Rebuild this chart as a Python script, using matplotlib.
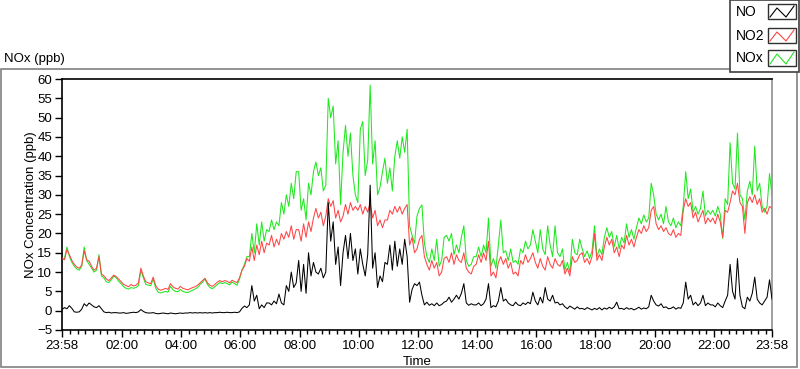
import numpy as np
import matplotlib
matplotlib.use("Agg")
import matplotlib.pyplot as plt
from matplotlib.patches import Rectangle
from matplotlib.lines import Line2D

# ---------------- data (5-minute samples from 23:58, minutes since start) ----------------
tick_labels = ["23:58", "02:00", "04:00", "06:00", "08:00", "10:00", "12:00",
               "14:00", "16:00", "18:00", "20:00", "22:00", "23:58"]
tick_minutes = [0, 122, 242, 362, 482, 602, 722, 842, 962, 1082, 1202, 1322, 1440]

no2 = [
    13.6, 13.2, 15.8, 14.5, 13, 12, 11.3, 11, 11.8, 15.5, 13.2, 12.8,
    11.5, 10.5, 11, 14, 9.5, 9, 8.2, 7.8, 8.5, 9.2, 8.8, 8.2,
    7.5, 6.8, 6.5, 6.2, 6.8, 6.4, 6.6, 7.2, 11, 9, 7.5, 7.2,
    7.0, 8.7, 6.5, 5.6, 5.3, 5.5, 5.8, 5.5, 7.0, 6.2, 5.8, 5.6,
    6.3, 5.8, 5.6, 5.4, 5.7, 6.0, 6.2, 6.6, 7.2, 7.8, 8.4, 7.2,
    6.6, 6.3, 6.8, 7.4, 7.8, 7.5, 7.8, 7.6, 7.2, 7.9, 7.5, 7.3,
    8.5, 10.5, 11.5, 13.5, 12.8, 16.5, 13, 17, 14.5, 18, 15, 17.5,
    17, 19.5, 16.5, 18.5, 17, 20, 18.5, 20.5, 19, 22, 18.5, 21,
    21, 18, 22.5, 19, 23, 20.5, 24, 26.5, 24, 25.5, 22, 24.5,
    29, 27, 28.5, 24, 26, 23, 24.5, 27.5, 25, 28, 26, 27,
    26, 27.5, 25, 27, 25.5, 28, 24, 26, 22, 23.5, 21.5, 23.5,
    23.5, 26, 25, 27, 25.5, 27, 25, 26.5, 27.5, 17, 19, 15,
    16, 18.5, 19.5, 14, 12, 10.5, 13, 11, 12.5, 9, 10, 13.5,
    14, 12.5, 15, 12, 14.5, 13, 12.5, 15, 11, 10, 9.5, 11.5,
    12, 14.5, 12.5, 15, 13, 18, 9, 10, 8.5, 12.5, 14, 12,
    13.5, 11, 12.5, 9.5, 10, 9, 13, 12, 14.5, 12.5, 13.5, 15,
    12.5, 11, 13.5, 11.5, 10.5, 14, 12, 11, 13.5, 12, 11.5, 13,
    9.5, 11, 9, 14, 12.5, 13, 14.5, 15, 12.5, 13.5, 12, 14,
    20, 13, 14.5, 13, 16.5, 19, 17, 18.5, 15, 16.5, 14, 17,
    16, 19.5, 17, 18.5, 16.5, 19, 21, 20, 22, 20.5, 21.5, 26,
    27, 22.5, 21, 22, 20.5, 21.5, 20, 19.5, 21, 19, 20, 19.5,
    26, 29, 27, 28, 24, 25.5, 23, 24.5, 26, 22.5, 24, 23,
    24, 22.5, 25, 23, 19, 26, 25.5, 28, 31, 30, 33, 28,
    27, 20, 28, 29.5, 28, 30, 27.5, 29, 25.5, 26.5, 25, 27, 26.5,
]

nox = [
    13.4, 13.5, 16.5, 14, 12.5, 11.5, 10.8, 10.5, 11.5, 16.5, 13, 12,
    11, 10, 10.5, 14.5, 9, 8.5, 7.5, 7.3, 8, 9, 8.5, 7.6,
    7, 6.2, 5.8, 5.6, 6, 5.8, 6, 6.5, 10.5, 8.5, 6.8, 6.6,
    6.5, 8.2, 5.8, 4.8, 4.6, 4.8, 5.0, 4.8, 6.3, 5.4, 5.0, 4.9,
    5.5, 5.0, 4.8, 4.7, 5.0, 5.3, 5.6, 6.0, 6.8, 7.4, 8.2, 6.8,
    6.0, 5.7, 6.2, 6.8, 7.3, 7.0, 7.3, 7.0, 6.7, 7.4, 7.0, 6.6,
    8.2, 10.5, 12, 14, 14, 20, 15, 22.5, 17, 23, 18, 21,
    20.5, 23.5, 21, 23, 22, 28, 25, 30, 27, 33, 29, 36,
    36, 26, 29, 23.5, 33, 30, 36, 38.5, 35, 37, 31, 32.5,
    55, 50, 53, 38, 44, 27.5, 41, 48, 40, 46, 35, 30,
    28, 47, 49, 35, 39, 58.4, 38, 44, 30, 32, 36, 39.5,
    33, 37, 31, 40, 44, 39.5, 45, 41, 47, 22, 19.5, 17.5,
    24.5, 26.5, 27.4, 17.5, 14, 12.5, 16, 13, 18.5, 11.5, 13, 19,
    19.5, 18, 20, 14.5, 17, 15, 19, 22, 13, 11.5, 12, 14,
    14, 16.5, 14, 17, 15, 24, 11.5, 13.5, 11, 17, 23.5, 15,
    15.5, 13, 16, 12.5, 13, 12, 16, 15, 18, 16, 17, 21,
    18, 15, 21, 16, 14.5, 22, 17, 14, 22, 15, 14, 16,
    10.5, 12.5, 10, 18.5, 15, 14.5, 18.5, 16, 14, 15.5, 13.5, 15.5,
    22, 14, 16, 14.5, 19, 21.5, 19, 20.5, 16.5, 19.5, 16, 19,
    17.5, 22.5, 19, 21, 18.5, 21.5, 24, 22.5, 24.8, 23, 24, 33,
    30, 25, 23.5, 25, 22.5, 27, 23, 22, 24, 21.5, 23, 22,
    27, 36, 29, 31.5, 25.5, 27, 25, 26.5, 31, 24.5, 26, 25,
    26, 24.5, 27, 25, 18.7, 29, 27.5, 43.5, 33, 31.5, 46, 30,
    29, 23.5, 31, 33.5, 30, 42.6, 31, 33, 27, 25.5, 27, 35.5, 30,
]

no = [
    0.3, 0.8, 0.5, 1.3, 0.6, -0.3, -0.4, -0.3, 0.4, 1.8, 1.2, 2.0,
    1.5, 1.0, 0.8, 1.3, 0.5, -0.3, -0.5, -0.4, -0.6, -0.5, -0.5, -0.6,
    -0.6, -0.5, -0.7, -0.6, -0.5, -0.4, -0.5, -0.3, 0.3, -0.2, -0.5, -0.6,
    -0.6, -0.5, -0.7, -0.8, -0.7, -0.6, -0.7, -0.8, -0.6, -0.7, -0.8, -0.7,
    -0.6, -0.7, -0.6, -0.6, -0.5, -0.6, -0.5, -0.6, -0.5, -0.6, -0.5, -0.6,
    -0.5, -0.6, -0.5, -0.5, -0.4, -0.5, -0.5, -0.4, -0.5, -0.5, -0.4, -0.5,
    -0.3, 0.6, 1.2, 0.8, 1.5, 6.5, 2.5, 4.0, 0.5, 1.5, 0.8, 2.0,
    2.0, 1.5, 2.5, 1.8, 4.3, 2.0, 1.5, 6.5, 5.0, 10, 6.0, 7.2,
    13, 5, 12, 4.5, 15, 9, 12.5, 10, 9.5, 11, 8.5, 10,
    28, 18, 23, 12, 16.5, 6.5, 15, 19.5, 13.5, 20, 13, 16,
    9.5, 16, 12, 9, 14.5, 32.5, 11, 15, 6, 9, 7.5, 12.5,
    12, 17, 10.5, 18, 11.5, 16, 12, 18.5, 14, 2.2, 5.5, 7,
    6.5, 7.4, 4, 1.5, 2.2, 1.4, 1.8, 1.3, 2.0, 1.3, 1.6, 2.2,
    2.5, 3.5, 2.2, 3.0, 4.0, 3.0, 4.5, 7.0, 2.0, 1.4, 1.8, 1.5,
    1.5, 2.0, 1.3, 1.8, 3.0, 7.0, 0.8, 1.3, 1.0, 2.5, 6.0, 2.5,
    3.0, 2.0, 1.5, 1.3, 2.2, 1.5, 1.3, 2.0, 1.6, 2.2, 1.8, 4.8,
    2.5, 1.5, 3.5, 2.0, 6.0, 3.0, 2.5, 4.0, 2.0, 2.2, 1.5, 1.8,
    1.0, 0.5, 1.2, 0.8, 0.4, 1.0, 0.5, 0.6, 0.3, 0.8, 0.5, 0.2,
    0.6, 0.3, 0.8, 0.2, 0.7, 0.4, 0.9, 0.5, 1.0, 2.2, 0.5, 0.6,
    0.3, 0.8, 0.4, 0.6, 0.2, 0.5, 0.9, 0.4, 0.7, 0.5, 1.0, 4.0,
    2.5, 1.5, 1.2, 1.8, 0.8, 1.0, 0.5, 0.6, 1.0, 0.4, 0.8, 0.6,
    2.0, 7.4, 3.0, 4.0, 1.5, 2.2, 1.3, 2.0, 4.0, 1.3, 2.0, 1.5,
    1.5, 1.0, 2.0, 1.3, 0.8, 2.5, 4.0, 12, 5.0, 3.0, 13.5, 4.0,
    1.0, 0.5, 3.5, 2.5, 4.5, 8.7, 3.0, 2.0, 1.5, 2.5, 3.5, 8.0, 3.0,
]

minutes = np.arange(len(no2)) * 5

series_names = ["NO", "NO2", "NOx"]
series_colors = {"NO": "#000000", "NO2": "#ff4545", "NOx": "#1ee81e"}

# ---------------- figure ----------------
W, H = 800, 369
plt.rcParams['font.family'] = ['Liberation Sans Narrow', 'Liberation Sans', 'DejaVu Sans']
fig = plt.figure(figsize=(W / 100, H / 100), dpi=100)
fig.patch.set_facecolor("white")

def fx(x):
    return x / W

def fy(y):
    return 1 - y / H

# outer control frame
fig.patches.append(Rectangle((fx(1), fy(367)), fx(797) - fx(1), fy(69) - fy(367),
                             transform=fig.transFigure, fill=False,
                             edgecolor="#808080", lw=1.2, zorder=0))
fig.text(fx(4), fy(59), "NOx (ppb)", fontsize=9.5, va="center", ha="left")

L, R, T, B = 62, 772, 79, 330
ax = fig.add_axes([fx(L), fy(B), fx(R) - fx(L), fy(T) - fy(B)])
ax.plot(minutes, nox, color=series_colors["NOx"], lw=0.75, zorder=2)
ax.plot(minutes, no2, color=series_colors["NO2"], lw=0.75, zorder=3)
ax.plot(minutes, no, color=series_colors["NO"], lw=0.75, zorder=4)

ax.set_xlim(0, 1440)
ax.set_ylim(-5, 60)
ax.set_yticks(np.arange(-5, 61, 5))
ax.set_xticks(tick_minutes)
ax.set_xticklabels(tick_labels)
minor = [2 + 15 * k for k in range(1, 96) if k % 8 != 0]
ax.set_xticks(minor, minor=True)
ax.tick_params(axis="both", which="major", labelsize=9.5, length=5, width=1, pad=2, color="black")
ax.tick_params(axis="x", which="minor", length=3, width=1, color="black")
for s in ["left", "top", "bottom"]:
    ax.spines[s].set_color("black")
    ax.spines[s].set_linewidth(1.2)
ax.spines["right"].set_color("#909090")
ax.spines["right"].set_linewidth(1.2)
ax.set_xlabel("Time", fontsize=9.5, labelpad=3)
ax.set_ylabel("NOx Concentration (ppb)", fontsize=9.5)
ax.yaxis.set_label_coords((37 - L) / (R - L), 0.5)

# legend (LabVIEW-style plot legend)
fig.patches.append(Rectangle((fx(730), fy(72)), fx(799) - fx(730), fy(0) - fy(72),
                             transform=fig.transFigure, facecolor="white",
                             edgecolor="#404040", lw=1.2, zorder=5))
rows = [(4, 19), (28, 43), (50, 66)]
for name, (y0, y1) in zip(series_names, rows):
    yc = (y0 + y1) / 2
    fig.text(fx(736), fy(yc), name, fontsize=10, va="center", ha="left", zorder=6)
    fig.patches.append(Rectangle((fx(768), fy(y1)), fx(796) - fx(768), fy(y0) - fy(y1),
                                 transform=fig.transFigure, facecolor="white",
                                 edgecolor="#303030", lw=1, zorder=6))
    zx = [770, 777, 786, 794]
    zy = [y1 - 2, y0 + 4, y1 - 2, y0 + 2]
    fig.lines.append(Line2D([fx(v) for v in zx], [fy(v) for v in zy],
                            transform=fig.transFigure, color=series_colors[name],
                            lw=0.8, zorder=7))

fig.savefig("out.png", dpi=100)
